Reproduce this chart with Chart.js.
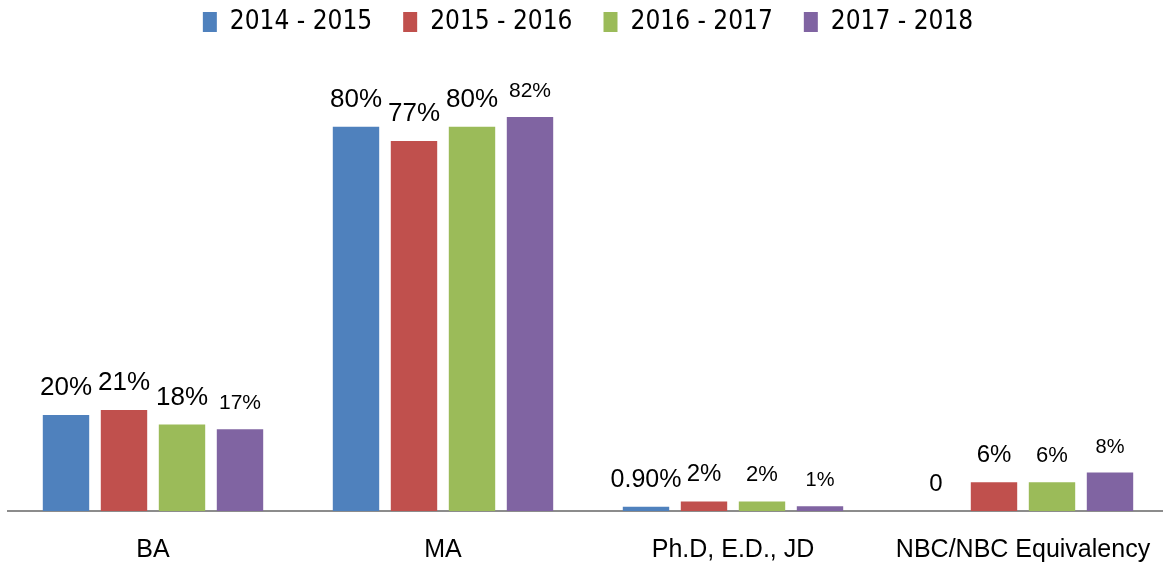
<!DOCTYPE html>
<html>
<head>
<meta charset="utf-8">
<script src="https://cdn.jsdelivr.net/npm/chart.js@4"></script>
<style>
  html, body { margin: 0; padding: 0; background: #fff; overflow: hidden; }
  #wrap { position: absolute; left: 0; top: -22px; width: 1168px; height: 606px; }
</style>
</head>
<body>
<div id="wrap"><canvas id="eduChart"></canvas></div>
<script>
const categories = ["BA", "MA", "Ph.D, E.D., JD", "NBC/NBC Equivalency"];
const seriesNames = ["2014 - 2015", "2015 - 2016", "2016 - 2017", "2017 - 2018"];
const values2014 = [20, 80, 0.9, 0];
const values2015 = [21, 77, 2, 6];
const values2016 = [18, 80, 2, 6];
const values2017 = [17, 82, 1, 8];
const labels2014 = ["20%", "80%", "0.90%", "0"];
const labels2015 = ["21%", "77%", "2%", "6%"];
const labels2016 = ["18%", "80%", "2%", "6%"];
const labels2017 = ["17%", "82%", "1%", "8%"];

const colors = ["#4F81BD", "#C0504D", "#9BBB59", "#8064A2"];
const valueLabels = [labels2014, labels2015, labels2016, labels2017];
const labelSizes = [
  [26, 26, 25, 24],
  [26, 26, 24, 24],
  [26, 26, 22, 22],
  [21, 21, 20, 20],
];

// draws the value text above each bar
const barLabels = {
  id: "barLabels",
  afterDatasetsDraw(chart) {
    const ctx = chart.ctx;
    ctx.save();
    ctx.fillStyle = "#000";
    ctx.textAlign = "center";
    ctx.textBaseline = "alphabetic";
    chart.data.datasets.forEach(function (ds, i) {
      chart.getDatasetMeta(i).data.forEach(function (bar, j) {
        ctx.font = labelSizes[i][j] + 'px "Liberation Sans"';
        ctx.fillText(valueLabels[i][j], bar.x, bar.y - 20);
      });
    });
    ctx.restore();
  },
};

const ctx = document.getElementById("eduChart").getContext("2d");
new Chart(ctx, {
  type: "bar",
  data: {
    labels: categories,
    datasets: [values2014, values2015, values2016, values2017].map(function (vals, i) {
      return {
        label: seriesNames[i],
        data: vals,
        backgroundColor: colors[i],
        categoryPercentage: 0.8,
        barPercentage: 0.8,
      };
    }),
  },
  options: {
    responsive: true,
    maintainAspectRatio: false,
    animation: false,
    layout: { padding: { left: 8, right: 0, top: 0, bottom: 3 } },
    plugins: {
      legend: {
        position: "top",
        labels: {
          color: "#000",
          boxWidth: 14,
          boxHeight: 20,
          padding: 31,
          font: { family: '"Liberation Sans Narrow", "DejaVu Sans Condensed", sans-serif', size: 26 },
        },
      },
      tooltip: { enabled: false },
    },
    scales: {
      x: {
        grid: { display: false },
        border: { color: "#8c8c8c", width: 2 },
        ticks: {
          color: "#000",
          padding: 16,
          font: { family: '"Liberation Sans"', size: 25 },
        },
      },
      y: {
        display: false,
        min: 0,
        max: 97,
      },
    },
  },
  plugins: [barLabels],
});
</script>
</body>
</html>
